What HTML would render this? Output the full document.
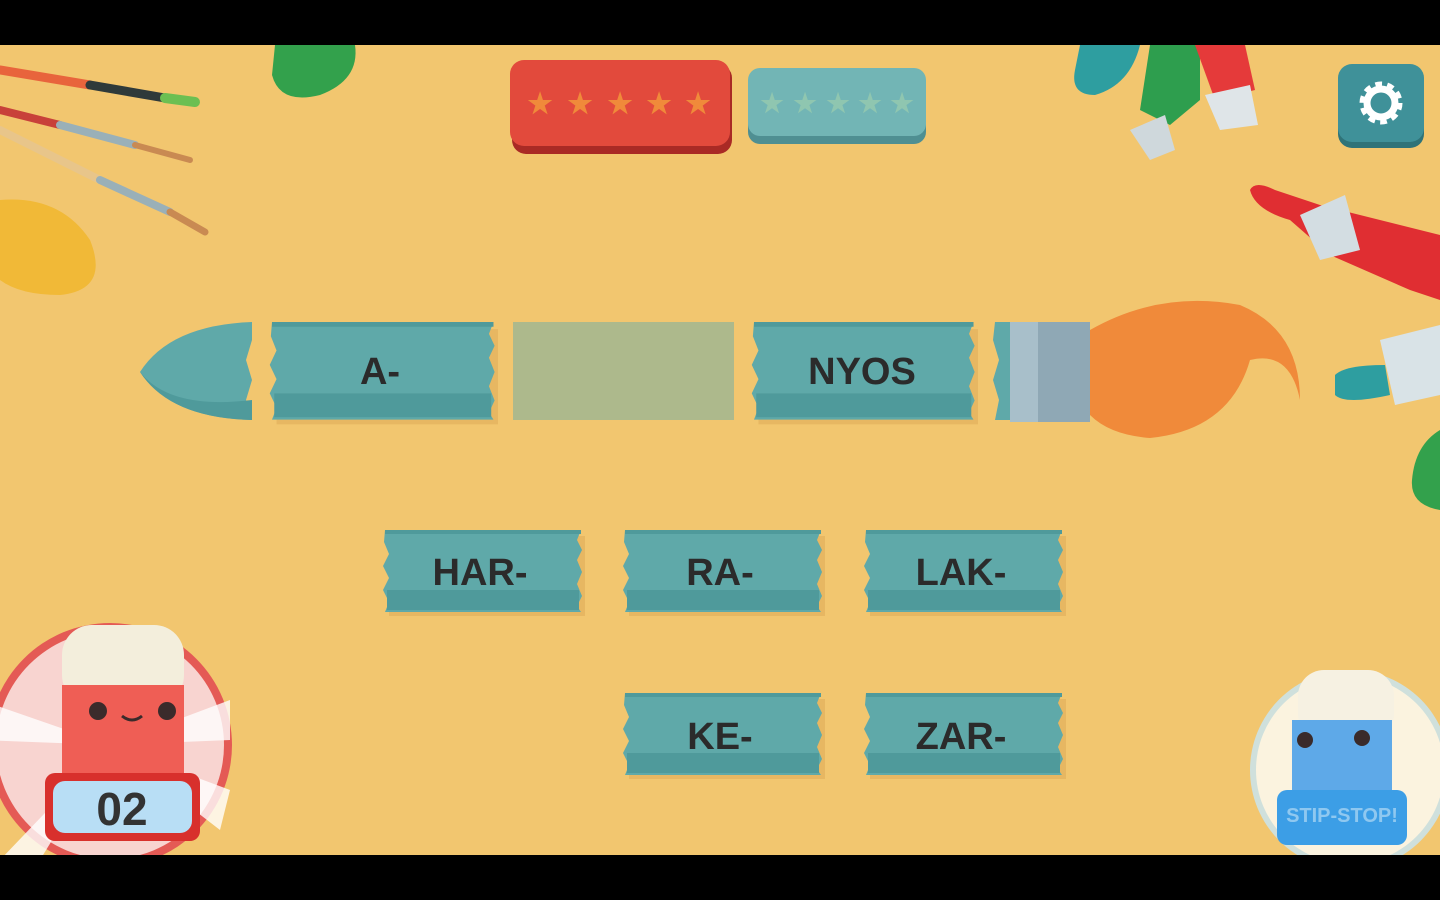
<!DOCTYPE html>
<html><head><meta charset="utf-8"><style>
html,body{margin:0;padding:0;background:#000;}
svg{display:block}
text{font-family:"Liberation Sans",sans-serif;font-weight:bold}
</style></head><body>
<svg width="1440" height="900" viewBox="0 0 1440 900" xmlns="http://www.w3.org/2000/svg">
<rect x="0" y="0" width="1440" height="900" fill="#000"/>
<rect x="0" y="45" width="1440" height="810" fill="#f2c66f"/>
<defs>
<clipPath id="c"><rect x="0" y="45" width="1440" height="810"/></clipPath>
<g id="tape">
<rect x="4" y="6" width="196" height="80" fill="#e0ae5a" opacity="0.6"/>
<path d="M0 0 H196 L192 10 L197 20 L192 30 L197 42 L192 54 L197 66 L192 76 L196 82 H0 L4 72 L-2 60 L4 48 L-2 36 L4 24 L-1 12 Z" fill="#5fa9a9"/>
<rect x="2" y="60" width="192" height="20" fill="#4f9a9b"/>
<rect x="0" y="0" width="196" height="4" fill="#4f9a9b"/>
</g>
</defs>
<g clip-path="url(#c)">
<!-- top-left brushes -->
<g stroke-linecap="round">
<line x1="0" y1="70" x2="90" y2="85" stroke="#e8643c" stroke-width="9"/>
<line x1="90" y1="85" x2="165" y2="98" stroke="#2f3a3a" stroke-width="9"/>
<line x1="165" y1="98" x2="195" y2="102" stroke="#6cbf52" stroke-width="10"/>
<line x1="0" y1="110" x2="60" y2="125" stroke="#c8413a" stroke-width="8"/>
<line x1="60" y1="125" x2="135" y2="145" stroke="#9ab0b8" stroke-width="8"/>
<line x1="135" y1="145" x2="190" y2="160" stroke="#c98a52" stroke-width="6"/>
<line x1="0" y1="130" x2="100" y2="180" stroke="#e8c58a" stroke-width="8"/>
<line x1="100" y1="180" x2="170" y2="212" stroke="#9ab0b8" stroke-width="8"/>
<line x1="170" y1="212" x2="205" y2="232" stroke="#c98a52" stroke-width="7"/>
</g>
<path d="M0 200 Q60 195 90 240 Q110 290 60 295 Q20 295 0 280 Z" fill="#f1b937"/>
<path d="M275 45 H355 Q360 80 320 95 Q280 105 272 75 Z" fill="#33a14c"/>
<!-- top-right tubes -->
<path d="M1080 45 H1140 Q1130 85 1095 95 Q1070 95 1075 70 Z" fill="#2e9ea0"/>
<path d="M1150 45 H1200 L1200 100 L1170 125 L1140 110 Z" fill="#2e9e4e"/>
<path d="M1130 130 L1165 115 L1175 150 L1150 160 Z" fill="#cfd8dc"/>
<path d="M1195 45 H1245 L1255 90 L1215 100 Z" fill="#e53a3a"/>
<path d="M1205 95 L1250 85 L1258 125 L1220 130 Z" fill="#dfe5e8"/>
<!-- right tubes -->
<path d="M1250 190 Q1255 180 1275 190 L1320 205 L1440 235 V300 L1410 290 L1330 255 L1290 220 Q1255 210 1250 190 Z" fill="#e02e32"/>
<path d="M1300 215 L1345 195 L1360 250 L1320 260 Z" fill="#d3dde2"/>
<path d="M1380 340 L1440 325 V395 L1395 405 Z" fill="#d9e3e7"/>
<path d="M1335 375 Q1345 365 1385 365 L1390 395 Q1345 405 1335 395 Z" fill="#2e9ea0"/>
<path d="M1440 430 V510 Q1410 505 1412 480 Q1415 445 1440 430 Z" fill="#33a14c"/>
<!-- stars buttons -->
<rect x="512" y="64" width="220" height="90" rx="14" fill="#a92a25"/>
<rect x="510" y="60" width="220" height="86" rx="14" fill="#e24a3c"/>
<rect x="748" y="72" width="178" height="72" rx="12" fill="#4f8f92"/>
<rect x="748" y="68" width="178" height="68" rx="12" fill="#72b5b5"/>
<g font-size="28" text-anchor="middle" fill="#f08a3a"><text x="540" y="113">★</text><text x="580" y="113">★</text><text x="620" y="113">★</text><text x="659" y="113">★</text><text x="698" y="113">★</text></g>
<g font-size="26" text-anchor="middle" fill="#8fc6b0"><text x="772" y="112">★</text><text x="805" y="112">★</text><text x="838" y="112">★</text><text x="870" y="112">★</text><text x="902" y="112">★</text></g>
<!-- settings -->
<rect x="1338" y="68" width="86" height="80" rx="14" fill="#2f7378"/>
<rect x="1338" y="64" width="86" height="78" rx="14" fill="#3f9199"/>
<circle cx="1381" cy="103" r="17" fill="none" stroke="#fff" stroke-width="9" stroke-dasharray="6 4.7"/>
<circle cx="1381" cy="103" r="14" fill="none" stroke="#fff" stroke-width="7"/>
<!-- brush row -->
<path d="M252 322 Q170 325 140 372 Q170 418 252 420 L246 400 L252 380 L246 360 L252 340 Z" fill="#5fa9a9"/>
<path d="M252 400 Q170 410 140 372 Q170 418 252 420 Z" fill="#4f9a9b"/>
<use href="#tape" transform="translate(272,322) scale(1.13,1.19)"/>
<text x="380" y="384" font-size="38" text-anchor="middle" fill="#2b2b2b">A-</text>
<rect x="513" y="322" width="221" height="98" fill="#adb98c"/>
<use href="#tape" transform="translate(754,322) scale(1.12,1.19)"/>
<text x="862" y="384" font-size="38" text-anchor="middle" fill="#2b2b2b">NYOS</text>
<path d="M995 322 H1010 V420 H995 L999 400 L993 380 L999 360 L993 340 Z" fill="#5fa9a9"/>
<path d="M1090 330 Q1160 290 1240 305 Q1300 330 1300 400 Q1290 350 1250 360 Q1230 430 1150 438 Q1110 435 1090 415 Z" fill="#f08a3a"/>
<path d="M1010 322 H1090 V422 H1010 Z" fill="#8fa8b5"/>
<rect x="1010" y="322" width="28" height="100" fill="#a8bfca"/>
<!-- options -->
<use href="#tape" transform="translate(385,530)"/>
<text x="480" y="585" font-size="38" text-anchor="middle" fill="#2b2b2b">HAR-</text>
<use href="#tape" transform="translate(625,530)"/>
<text x="720" y="585" font-size="38" text-anchor="middle" fill="#2b2b2b">RA-</text>
<use href="#tape" transform="translate(866,530)"/>
<text x="961" y="585" font-size="38" text-anchor="middle" fill="#2b2b2b">LAK-</text>
<use href="#tape" transform="translate(625,693)"/>
<text x="720" y="749" font-size="38" text-anchor="middle" fill="#2b2b2b">KE-</text>
<use href="#tape" transform="translate(866,693)"/>
<text x="961" y="749" font-size="38" text-anchor="middle" fill="#2b2b2b">ZAR-</text>
<!-- red player -->
<circle cx="110" cy="745" r="122" fill="#e45a55"/>
<circle cx="110" cy="745" r="114" fill="#f8d4d0"/>
<g fill="#fff" opacity="0.8"><path d="M110 745 L-20 700 L-20 740 Z"/><path d="M110 745 L230 700 L230 740 Z"/><path d="M110 745 L230 790 L220 830 Z"/><path d="M110 745 L0 860 L40 860 Z"/></g>
<rect x="62" y="625" width="122" height="80" rx="30" fill="#f3eedc"/>
<rect x="62" y="685" width="122" height="100" fill="#ef5e55"/>
<circle cx="98" cy="711" r="9" fill="#3a2b2b"/><circle cx="167" cy="711" r="9" fill="#3a2b2b"/>
<path d="M122 716 Q132 724 142 716" stroke="#3a2b2b" stroke-width="3" fill="none"/>
<rect x="45" y="773" width="155" height="68" rx="10" fill="#d8302c"/>
<rect x="53" y="781" width="139" height="52" rx="12" fill="#b8def5"/>
<text x="122" y="825" font-size="46" text-anchor="middle" fill="#333" font-family="Liberation Mono" font-weight="normal">02</text>
<!-- blue player -->
<circle cx="1350" cy="770" r="100" fill="#cfe0dc"/>
<circle cx="1350" cy="770" r="94" fill="#fbf3df"/>
<rect x="1298" y="670" width="96" height="70" rx="26" fill="#f6f1e2"/>
<rect x="1292" y="720" width="100" height="80" fill="#5ea9e8"/>
<circle cx="1305" cy="740" r="8" fill="#3a2b2b"/><circle cx="1362" cy="738" r="8" fill="#3a2b2b"/>
<rect x="1277" y="790" width="130" height="55" rx="10" fill="#3c9ee6"/>
<text x="1342" y="822" font-size="20" text-anchor="middle" fill="#8fc8f0">STIP-STOP!</text>
</g>
</svg>
</body></html>
